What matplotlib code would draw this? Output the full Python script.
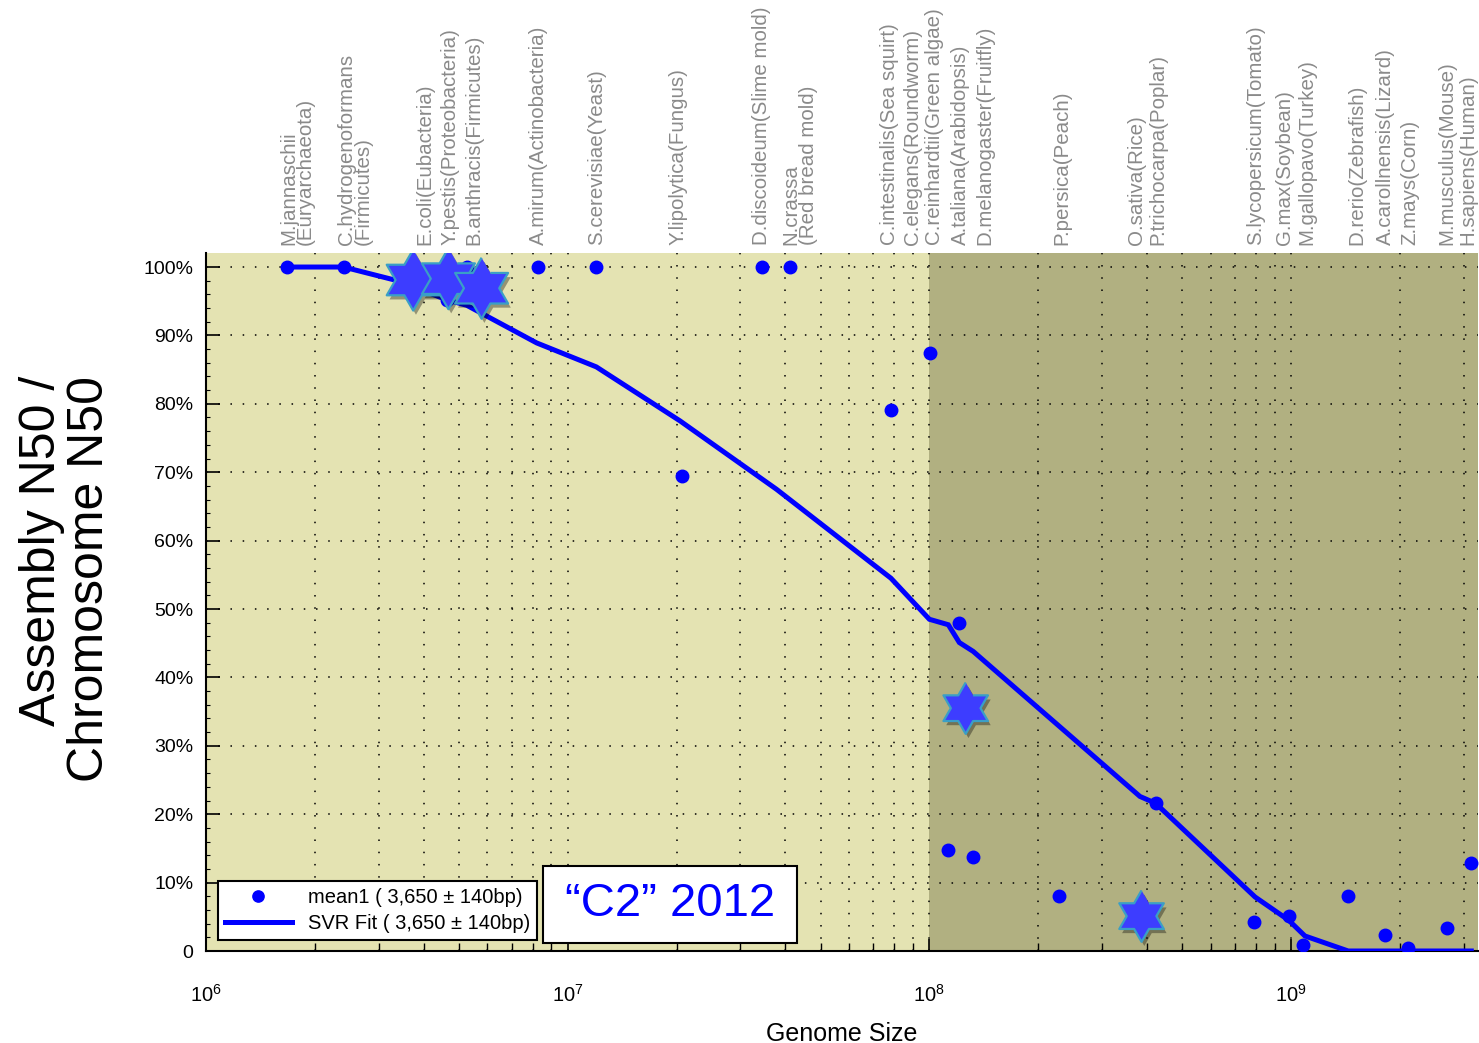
import numpy as np
import matplotlib
matplotlib.use("Agg")
import matplotlib.pyplot as plt
import matplotlib.patheffects as pe
from matplotlib.patches import Rectangle
from matplotlib.ticker import FixedLocator, FixedFormatter, LogLocator, NullFormatter
from matplotlib.transforms import blended_transform_factory

plt.rcParams['font.family'] = ['Liberation Sans', 'DejaVu Sans']
plt.rcParams['mathtext.fontset'] = 'custom'
plt.rcParams['mathtext.rm'] = 'Liberation Sans'

# genome size (bp) and assembly N50 / chromosome N50 ratio
dot_size = [1.67e6, 2.40e6, 4.63e6, 5.26e6, 8.29e6, 12.0e6, 20.7e6, 34.5e6, 41.2e6,
            78.3e6, 100.4e6, 112.8e6, 120.8e6, 132e6, 228.6e6, 422e6, 790e6, 985e6,
            1.08e9, 1.44e9, 1.82e9, 2.11e9, 2.69e9, 3.15e9]
dot_ratio = [1.00, 1.00, 0.952, 1.00, 1.00, 1.00, 0.695, 1.00, 1.00,
             0.791, 0.875, 0.147, 0.479, 0.137, 0.081, 0.216, 0.042, 0.051,
             0.009, 0.081, 0.024, 0.004, 0.033, 0.129]

star_size_top = [3.74e6, 4.68e6, 5.78e6]
star_ratio_top = [0.981, 0.983, 0.969]
star_size_low = [126e6, 386e6]
star_ratio_low = [0.355, 0.051]

fit_size = [1.67e6, 2.40e6, 3.44e6, 4.63e6, 5.26e6, 8.21e6, 12.0e6, 20.45e6, 37.8e6,
            78.3e6, 100e6, 112.8e6, 121e6, 132.2e6, 382e6, 422e6, 795e6, 985e6,
            1.092e9, 1.439e9, 3.15e9]
fit_ratio = [1.00, 1.00, 0.979, 0.952, 0.944, 0.889, 0.854, 0.775, 0.675,
             0.545, 0.485, 0.477, 0.451, 0.438, 0.226, 0.216, 0.079, 0.045,
             0.022, 0.0, 0.0]

org_names = ["M.jannaschii\n(Euryarchaeota)", "C.hydrogenoformans\n(Firmicutes)",
             "E.coli(Eubacteria)", "Y.pestis(Proteobacteria)", "B.anthracis(Firmicutes)",
             "A.mirum(Actinobacteria)", "S.cerevisiae(Yeast)", "Y.lipolytica(Fungus)",
             "D.discoideum(Slime mold)", "N.crassa\n(Red bread mold)",
             "C.intestinalis(Sea squirt)", "C.elegans(Roundworm)", "C.reinhardtii(Green algae)",
             "A.taliana(Arabidopsis)", "D.melanogaster(Fruitfly)", "P.persica(Peach)",
             "O.sativa(Rice)", "P.trichocarpa(Poplar)", "S.lycopersicum(Tomato)",
             "G.max(Soybean)", "M.gallopavo(Turkey)", "D.rerio(Zebrafish)",
             "A.carollnensis(Lizard)", "Z.mays(Corn)", "M.musculus(Mouse)", "H.sapiens(Human)"]
org_pos = [1.785e6, 2.577e6, 4.03e6, 4.727e6, 5.507e6, 8.29e6, 12.03e6, 20.22e6,
           34.4e6, 43.87e6, 77.8e6, 89.9e6, 103.6e6, 121.5e6, 142.5e6, 232.2e6,
           374.2e6, 429.3e6, 798.3e6, 962e6, 1.104e9, 1.518e9, 1.818e9, 2.132e9,
           2.693e9, 3.09e9]

y_ticks = [0, .1, .2, .3, .4, .5, .6, .7, .8, .9, 1.0]
y_labels = ["0", "10%", "20%", "30%", "40%", "50%", "60%", "70%", "80%", "90%", "100%"]
x_ticks = [1e6, 1e7, 1e8, 1e9]
x_labels = [r"$\mathregular{10^{6}}$", r"$\mathregular{10^{7}}$",
            r"$\mathregular{10^{8}}$", r"$\mathregular{10^{9}}$"]

xmin, xmax = 1e6, 3.287e9
split = 1e8

fig = plt.figure(figsize=(14.79, 10.43), dpi=100)
ax = fig.add_axes([206/1479, 1-951/1043, 1272/1479, 698/1043])
ax.set_xscale('log')
ax.set_xlim(xmin, xmax)
ax.set_ylim(0, 1.0205)
ax.set_facecolor('#e4e3b2')
ax.axvspan(split, xmax, color='#b1b081', zorder=0.2, lw=0)

ax.set_axisbelow(True)
dots = (0, (1, 7))
ax.grid(which='both', axis='x', color='k', linestyle=dots, linewidth=1.1)
ax.grid(which='major', axis='y', color='k', linestyle=dots, linewidth=1.1)

# hexagram marker
ang = np.deg2rad(np.arange(12) * 30 + 90)
rad = np.where(np.arange(12) % 2 == 0, 1.0, 1/np.sqrt(3))
hexagram = np.column_stack([rad*np.cos(ang), rad*np.sin(ang)])

ax.plot(dot_size, dot_ratio, 'o', color='#0000ff', markersize=9, zorder=3,
        label='mean1 ( 3,650 ± 140bp)')
ax.plot(fit_size, fit_ratio, '-', color='#0000ff', linewidth=3.6, zorder=3,
        solid_joinstyle='miter', label='SVR Fit ( 3,650 ± 140bp)')
shadow = [pe.SimplePatchShadow(offset=(2, -3), shadow_rgbFace='k', alpha=0.35), pe.Normal()]
ax.plot(star_size_top, star_ratio_top, linestyle='none', marker=hexagram, markersize=44,
        markerfacecolor='#3d3dff', markeredgecolor='#3a9fc6', markeredgewidth=1.6,
        zorder=4, path_effects=shadow)
ax.plot(star_size_low, star_ratio_low, linestyle='none', marker=hexagram, markersize=37,
        markerfacecolor='#3d3dff', markeredgecolor='#3a9fc6', markeredgewidth=1.6,
        zorder=4, path_effects=shadow)

ax.yaxis.set_major_locator(FixedLocator(y_ticks))
ax.yaxis.set_major_formatter(FixedFormatter(y_labels))
ax.yaxis.set_minor_locator(FixedLocator(np.arange(0, 1.02, 0.02)))
ax.xaxis.set_major_locator(FixedLocator(x_ticks))
ax.xaxis.set_major_formatter(FixedFormatter(x_labels))
ax.xaxis.set_minor_locator(LogLocator(base=10, subs=np.arange(2, 10)))
ax.xaxis.set_minor_formatter(NullFormatter())
ax.tick_params(axis='y', which='major', direction='in', length=10, width=1.2,
               labelsize=14, pad=9)
ax.tick_params(axis='y', which='minor', direction='in', length=3, width=0.8)
ax.tick_params(axis='x', which='major', direction='in', length=9, width=1.2,
               labelsize=14.5, pad=24)
ax.tick_params(axis='x', which='minor', direction='in', length=6, width=1.0)

for s in ['top', 'right']:
    ax.spines[s].set_visible(False)
for s in ['left', 'bottom']:
    ax.spines[s].set_linewidth(1.5)

ax.set_xlabel('Genome Size', fontsize=18, labelpad=11)

fig.text(66/1479, 1-579/1043, "Assembly N50 /\nChromosome N50",
         fontsize=36, rotation=90, ha='center', va='center',
         multialignment='right', linespacing=1.05)

trans = blended_transform_factory(ax.transData, ax.transAxes)
for name, pos in zip(org_names, org_pos):
    ax.text(pos, 1.0115, name, transform=trans, rotation=90, ha='center', va='bottom',
            multialignment='left', fontsize=14.8, color='#8a8a8a', linespacing=0.88,
            clip_on=False)

leg = ax.legend(loc='lower left', bbox_to_anchor=(218/1479, 1-940/1043),
                bbox_transform=fig.transFigure, borderaxespad=0, fancybox=False,
                edgecolor='k', framealpha=1, fontsize=14.5, handlelength=3.3,
                borderpad=0.35, labelspacing=0.35, markerscale=0.9)
leg.get_frame().set_linewidth(1.5)

fig.patches.append(Rectangle((543/1479, 1-943/1043), 254/1479, 77/1043,
                             transform=fig.transFigure, facecolor='white',
                             edgecolor='k', linewidth=1.5, zorder=5))
fig.text(670/1479, 1-904/1043, "“C2” 2012", fontsize=34, color='#0000ff',
         ha='center', va='center', zorder=6)

fig.savefig('out.png', dpi=100)
